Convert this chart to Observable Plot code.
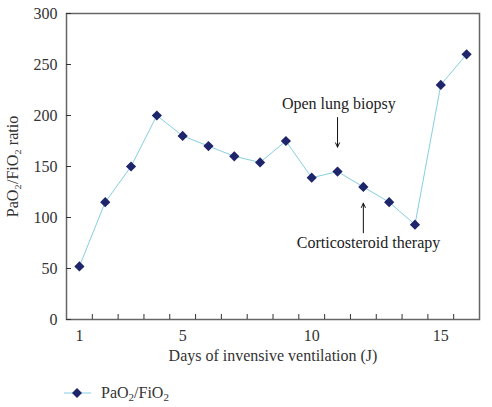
<!DOCTYPE html>
<html><head><meta charset="utf-8">
<script src="https://cdn.jsdelivr.net/npm/d3@7"></script>
<script src="https://cdn.jsdelivr.net/npm/@observablehq/plot@0.6"></script>
<style>
body{margin:0;background:#fff;font-family:"Liberation Serif",serif;}
#legend{position:relative;height:35px;font-size:16px;color:#333;}
#legend .item{position:absolute;left:63px;top:12px;display:flex;align-items:center;}
sub{font-size:11px;vertical-align:-3px;line-height:0}
</style></head>
<body>
<div id="chart"></div>
<div id="legend"><div class="item"><svg width="30" height="14"><line x1="1" x2="28" y1="7" y2="7" stroke="#86cfe0" stroke-width="1"/><path d="M14,2 L19,7 L14,12 L9,7Z" fill="#1f256b"/></svg><span style="margin-left:8px">PaO<sub>2</sub>/FiO<sub>2</sub></span></div></div>
<script>
const days = [1,2,3,4,5,6,7,8,9,10,11,12,13,14,15,16];
const ratio = [52,115,150,200,180,170,160,154,175,139,145,130,115,93,230,260];
const yTicks = [0,50,100,150,200,250,300];
const xTickMarks = [1.5,2.5,3.5,4.5,5.5,6.5,7.5,8.5,9.5,10.5,11.5,12.5,13.5,14.5,15.5];
const xTickLabels = [1,5,10,15];
const annotations = [
  {label: "Open lung biopsy", tx: 11.05, ty: 211, ax: 11, y1: 198, y2: 169},
  {label: "Corticosteroid therapy", tx: 12.2, ty: 75, ax: 12, y1: 85, y2: 114}
];
const data = days.map((d,i)=>({day:d, value:ratio[i]}));

const plot = Plot.plot({
  width: 492, height: 372,
  marginLeft: 66, marginRight: 13, marginTop: 13, marginBottom: 53,
  style: {fontFamily: "Liberation Serif, serif", fontSize: "16px", color: "#333"},
  x: {domain: [0.5, 16.5]},
  y: {domain: [0, 300]},
  marks: [
    Plot.frame({stroke: "#666", strokeWidth: 1.5}),
    Plot.axisY({ticks: yTicks, tickSize: -5, tickPadding: 14, label: null, stroke: "#333", fontSize: 16}),
    Plot.axisX({ticks: xTickMarks, tickSize: -5, tickFormat: () => "", label: null, stroke: "#333"}),
    Plot.axisX({ticks: xTickLabels, tickSize: 0, tickPadding: 10, label: null, fontSize: 16}),
    Plot.text(["Days of invensive ventilation (J)"], {frameAnchor: "bottom", dy: 41, fontSize: 16, fill: "#333"}),
    Plot.text(["PaO₂/FiO₂ ratio"], {frameAnchor: "left", textAnchor: "middle", rotate: -90, dx: -54, fontSize: 16, fill: "#333"}),
    Plot.line(data, {x: "day", y: "value", stroke: "#86cfe0", strokeWidth: 1}),
    Plot.dot(data, {x: "day", y: "value", symbol: "diamond2", r: 4.6, fill: "#1f256b", stroke: "none"}),
    Plot.arrow(annotations, {x1: "ax", x2: "ax", y1: "y1", y2: "y2", stroke: "#111", strokeWidth: 1, headLength: 7, headAngle: 50}),
    Plot.text(annotations, {x: "tx", y: "ty", text: "label", fontSize: 16, fill: "#222"})
  ]
});
document.getElementById("chart").appendChild(plot);
</script>
</body></html>
